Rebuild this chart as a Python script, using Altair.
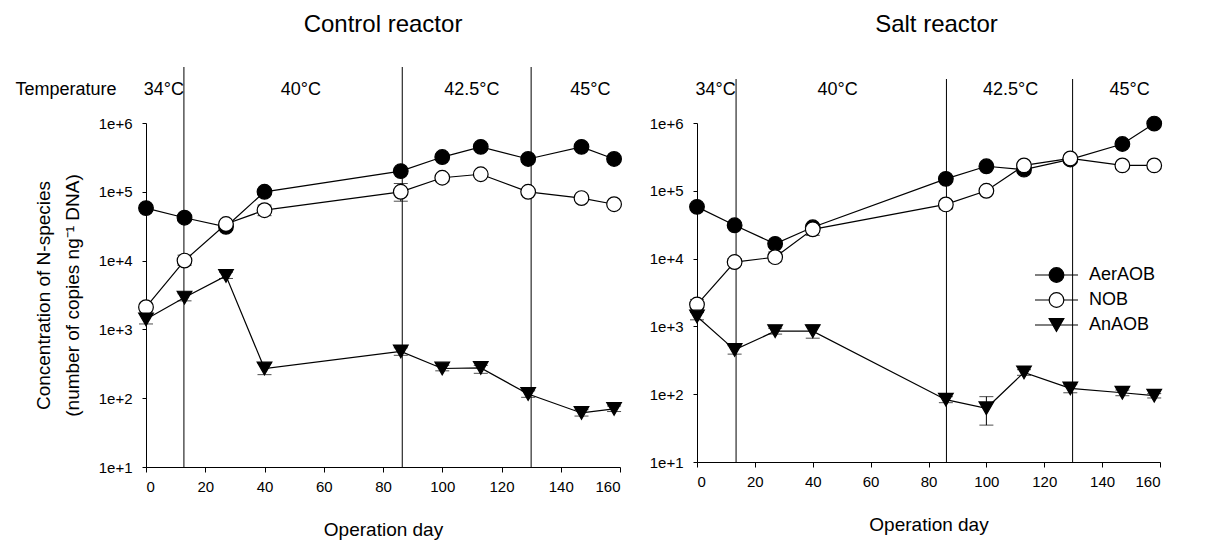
import altair as alt
import pandas as pd
import numpy as np

FONT = "Liberation Sans"

days = [0, 13, 27, 40, 86, 100, 113, 129, 147, 158]
series_names = ["AerAOB", "NOB", "AnAOB"]

# Control reactor
ctrl_aer = [5.8e4, 4.2e4, 3.1e4, 1.0e5, 2.0e5, 3.2e5, 4.5e5, 3.0e5, 4.5e5, 3.0e5]
ctrl_aer_lo = [5.2e4, 3.8e4, 2.8e4, 9.2e4, 1.85e5, 2.9e5, 4.0e5, 2.7e5, 4.1e5, 2.8e5]
ctrl_aer_hi = [6.4e4, 4.6e4, 3.4e4, 1.08e5, 2.15e5, 3.5e5, 5.0e5, 3.3e5, 4.9e5, 3.2e5]
ctrl_nob = [2.1e3, 1.0e4, 3.4e4, 5.4e4, 1.0e5, 1.6e5, 1.8e5, 1.0e5, 8.1e4, 6.6e4]
ctrl_nob_lo = [1.8e3, 8.5e3, 3.0e4, 4.5e4, 7.3e4, 1.4e5, 1.65e5, 9.3e4, 7.5e4, 6.2e4]
ctrl_nob_hi = [2.4e3, 1.2e4, 3.7e4, 6.4e4, 1.32e5, 1.8e5, 1.95e5, 1.07e5, 8.7e4, 7.0e4]
ctrl_an = [1.4e3, 2.9e3, 6.0e3, 2.7e2, 4.8e2, 2.7e2, 2.75e2, 1.15e2, 61, 70]
ctrl_an_lo = [1.2e3, 2.6e3, 5.5e3, 2.2e2, 4.2e2, 2.5e2, 2.3e2, 1.03e2, 55, 64]
ctrl_an_hi = [1.7e3, 3.3e3, 6.8e3, 3.25e2, 5.4e2, 3.0e2, 3.0e2, 1.28e2, 68, 77]

# Salt reactor
salt_aer = [5.8e4, 3.1e4, 1.65e4, 2.9e4, 1.5e5, 2.3e5, 2.05e5, 2.9e5, 4.9e5, 9.8e5]
salt_aer_lo = [5.3e4, 2.8e4, 1.5e4, 2.6e4, 1.4e5, 2.15e5, 1.9e5, 2.7e5, 4.6e5, 9.2e5]
salt_aer_hi = [6.3e4, 3.4e4, 1.8e4, 3.2e4, 1.6e5, 2.45e5, 2.2e5, 3.1e5, 5.2e5, 1.04e6]
salt_nob = [2.1e3, 8.9e3, 1.05e4, 2.7e4, 6.3e4, 1.0e5, 2.37e5, 3.0e5, 2.37e5, 2.37e5]
salt_nob_lo = [1.8e3, 8.0e3, 9.0e3, 2.2e4, 5.4e4, 9.3e4, 2.2e5, 2.8e5, 2.25e5, 2.25e5]
salt_nob_hi = [2.5e3, 1.0e4, 1.25e4, 3.1e4, 7.2e4, 1.08e5, 2.5e5, 3.2e5, 2.5e5, 2.5e5]
salt_an = [1.4e3, 4.5e2, 8.5e2, 8.5e2, 83, 62, 2.1e2, 1.22e2, 1.05e2, 95]
salt_an_lo = [1.25e3, 3.9e2, 7.7e2, 6.7e2, 75, 35, 1.9e2, 1.05e2, 95, 88]
salt_an_hi = [1.6e3, 5.2e2, 9.4e2, 1.05e3, 92, 92, 2.3e2, 1.38e2, 1.15e2, 1.02e2]

ctrl_bounds = [12.8, 86.5, 130]
salt_bounds = [13.5, 86.2, 129.8]

ctrl_temp_labels = ["Temperature", "34°C", "40°C", "42.5°C", "45°C"]
ctrl_temp_x = [-27, 6.0, 52.3, 110, 150]
salt_temp_labels = ["34°C", "40°C", "42.5°C", "45°C"]
salt_temp_x = [6.4, 48.6, 108.4, 149.5]


def long_df(aer, aer_lo, aer_hi, nob, nob_lo, nob_hi, an, an_lo, an_hi):
    rows = []
    for name, v, lo, hi in [("AerAOB", aer, aer_lo, aer_hi),
                            ("NOB", nob, nob_lo, nob_hi),
                            ("AnAOB", an, an_lo, an_hi)]:
        for d, a, l, h in zip(days, v, lo, hi):
            rows.append({"day": d, "series": name, "value": a, "lo": l, "hi": h})
    return pd.DataFrame(rows)


ctrl_df = long_df(ctrl_aer, ctrl_aer_lo, ctrl_aer_hi, ctrl_nob, ctrl_nob_lo, ctrl_nob_hi,
                  ctrl_an, ctrl_an_lo, ctrl_an_hi)
salt_df = long_df(salt_aer, salt_aer_lo, salt_aer_hi, salt_nob, salt_nob_lo, salt_nob_hi,
                  salt_an, salt_an_lo, salt_an_hi)

legend_df = pd.DataFrame({"series": series_names})

FILLS = ["black", "white", "black"]
SHAPES = ["circle", "circle", "triangle-down"]
MSIZE = 215


def panel(df, title, bounds, tlabels, tx, w, h, ytitle, legend, rule_top, temp_y, toff, tdx):
    xs = alt.Scale(domain=[0, 160], nice=False)
    ys = alt.Scale(type="log", domain=[10, 1e6], nice=False)
    xax = alt.Axis(values=list(range(0, 161, 20)), title="Operation day", titlePadding=26)
    yax = alt.Axis(values=[1e1, 1e2, 1e3, 1e4, 1e5, 1e6],
                   labelExpr="'1e+' + format(round(log(datum.value)/LN10), 'd')",
                   title=ytitle if ytitle else None, titlePadding=16,
                   titleLineHeight=29)
    base = alt.Chart(df)
    X = alt.X("day:Q", scale=xs, axis=xax)
    Y = alt.Y("value:Q", scale=ys, axis=yax)

    rules = alt.Chart(pd.DataFrame({"b": bounds})).mark_rule(color="black", strokeWidth=1).encode(
        x=alt.X("b:Q", scale=xs), y=alt.value(rule_top), y2=alt.value(h))
    temps = alt.Chart(pd.DataFrame({"t": tlabels, "tx": tx})).mark_text(
        font=FONT, fontSize=18, baseline="middle", align="center", color="black").encode(
        x=alt.X("tx:Q", scale=xs), y=alt.value(temp_y), text="t:N")
    lines = base.mark_line(color="black", strokeWidth=1.2).encode(x=X, y=Y, detail="series:N")
    err = base.mark_rule(color="black", strokeWidth=1).encode(
        x=alt.X("day:Q", scale=xs), y=alt.Y("lo:Q", scale=ys), y2="hi:Q")
    cap_lo = base.mark_tick(orient="horizontal", size=14, thickness=1, color="black").encode(
        x=alt.X("day:Q", scale=xs), y=alt.Y("lo:Q", scale=ys))
    cap_hi = base.mark_tick(orient="horizontal", size=14, thickness=1, color="black").encode(
        x=alt.X("day:Q", scale=xs), y=alt.Y("hi:Q", scale=ys))
    layers = [rules, temps, lines, err, cap_lo, cap_hi]
    for name, shp, fl in zip(series_names, SHAPES, FILLS):
        pts = base.transform_filter(alt.datum.series == name).mark_point(
            shape=shp, filled=True, fill=fl, stroke="black", strokeWidth=1.2,
            size=MSIZE, opacity=1).encode(x=alt.X("day:Q", scale=xs), y=alt.Y("value:Q", scale=ys))
        layers.append(pts)
    inner = alt.layer(*layers)
    if legend:
        leg_base = alt.Chart(legend_df).encode(
            y=alt.Y("series:N", scale=alt.Scale(type="point", domain=series_names,
                                                range=[152, 202], padding=0), axis=None))
        leg_line = leg_base.mark_rule(color="black", strokeWidth=1.2).encode(
            x=alt.value(338), x2=alt.value(381))
        leg_pts = leg_base.mark_point(filled=True, stroke="black", strokeWidth=1.2,
                                      size=MSIZE, opacity=1).encode(
            x=alt.value(359.5),
            shape=alt.Shape("series:N", scale=alt.Scale(domain=series_names, range=SHAPES),
                            legend=None),
            fill=alt.Fill("series:N", scale=alt.Scale(domain=series_names, range=FILLS),
                          legend=None))
        leg_txt = leg_base.mark_text(align="left", baseline="middle", font=FONT, fontSize=18,
                                     color="black").encode(x=alt.value(392), text="series:N")
        inner = alt.layer(inner, alt.layer(leg_line, leg_pts, leg_txt)).resolve_scale(y="independent")
    return inner.properties(
        width=w, height=h,
        title=alt.TitleParams(title, fontSize=24, font=FONT, fontWeight="normal",
                              offset=toff, dx=tdx))


left = panel(ctrl_df, "Control reactor", ctrl_bounds, ctrl_temp_labels, ctrl_temp_x, 474, 344,
             ["Concentration of N-species", "(number of copies ng⁻¹ DNA)"], False, -56, -33, 30, 0)
right = panel(salt_df, "Salt reactor", salt_bounds, salt_temp_labels, salt_temp_x, 463, 339,
              None, True, -44, -33, 42, 8)

chart = alt.hconcat(left, right, spacing=25).properties(
    padding={"left": 15, "top": 12, "right": 5, "bottom": 5}
).configure_view(stroke=None).configure_axis(
    grid=False, domainColor="black", tickColor="black", labelColor="black",
    labelFont=FONT, labelFontSize=15, titleFont=FONT, titleFontSize=19,
    titleFontWeight="normal", titleColor="black", tickSize=5
).configure_axisY(labelPadding=10, tickSize=4).configure_axisX(labelPadding=7)

chart.save("out.html", embed_options={"renderer": "svg", "actions": False})
